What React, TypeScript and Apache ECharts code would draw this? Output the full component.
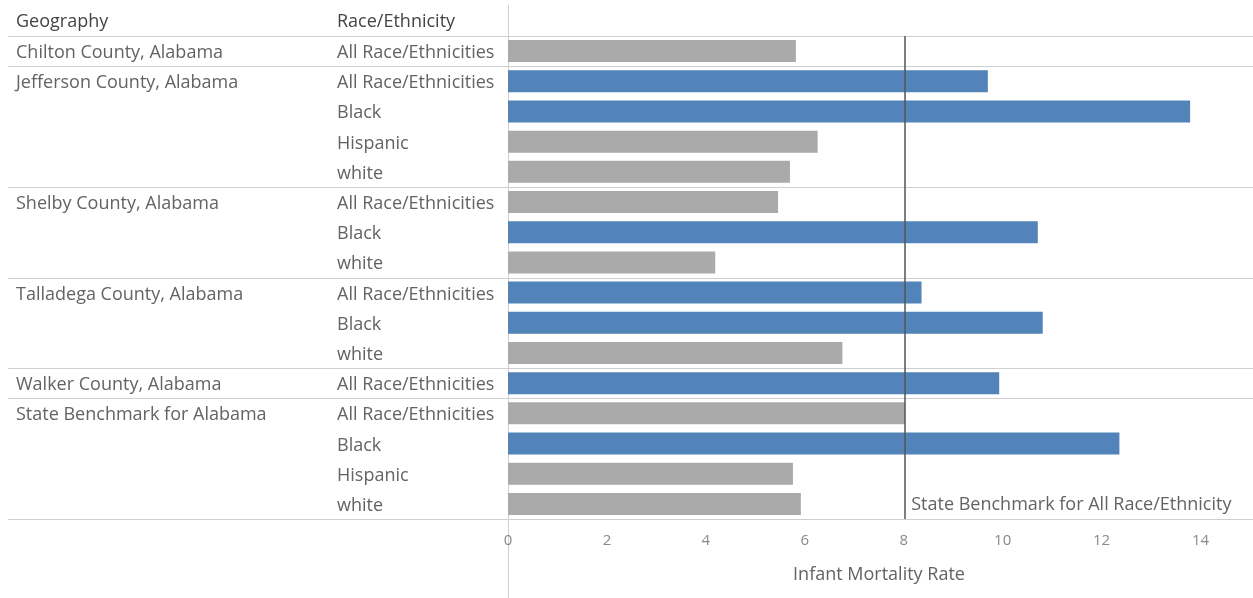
import React, { useEffect, useRef } from "react";
import * as echarts from "echarts";

const geography = [
  "Chilton County, Alabama",
  "Jefferson County, Alabama",
  "Jefferson County, Alabama",
  "Jefferson County, Alabama",
  "Jefferson County, Alabama",
  "Shelby County, Alabama",
  "Shelby County, Alabama",
  "Shelby County, Alabama",
  "Talladega County, Alabama",
  "Talladega County, Alabama",
  "Talladega County, Alabama",
  "Walker County, Alabama",
  "State Benchmark for Alabama",
  "State Benchmark for Alabama",
  "State Benchmark for Alabama",
  "State Benchmark for Alabama",
];
const race = [
  "All Race/Ethnicities",
  "All Race/Ethnicities",
  "Black",
  "Hispanic",
  "white",
  "All Race/Ethnicities",
  "Black",
  "white",
  "All Race/Ethnicities",
  "Black",
  "white",
  "All Race/Ethnicities",
  "All Race/Ethnicities",
  "Black",
  "Hispanic",
  "white",
];
const rate = [5.82, 9.7, 13.79, 6.26, 5.7, 5.46, 10.71, 4.19, 8.36, 10.81, 6.76, 9.93, 8.03, 12.36, 5.76, 5.92];
const benchmark = 8.03;
const benchmarkLabel = "State Benchmark for All Race/Ethnicity";
const xTicks = { min: 0, max: 15, interval: 2, lastLabel: 14 };
const headers = ["Geography", "Race/Ethnicity"];
const axisName = "Infant Mortality Rate";

const FONT = "'Open Sans'";
const FS = 18;
const TEXT = "#636363";
const BLUE = "#5283b9";
const GRAY = "#aaaaaa";
const LINE = "#cfcfcf";

const W = 1253;
const H = 598;
const GEO_X = 16;
const RACE_X = 337;
const GRID_LEFT = 508;

export default function App() {
  const ref = useRef<HTMLDivElement>(null);
  useEffect(() => {
    if (!ref.current) return;
    const chart = echarts.init(ref.current, undefined, { renderer: "svg", width: W, height: H });
    const keys = geography.map((g, i) => `${g} | ${race[i]}`);
    chart.setOption({
      animation: false,
      grid: { left: GRID_LEFT, right: 0, top: 36, bottom: H - 519, containLabel: false },
      xAxis: {
        type: "value",
        min: xTicks.min,
        max: xTicks.max,
        interval: xTicks.interval,
        axisLine: { show: false },
        axisTick: { show: false },
        splitLine: { show: false },
        axisLabel: {
          color: "#8a8a8a",
          fontFamily: FONT,
          fontSize: 15,
          margin: 12,
          formatter: (v: number) => (v > xTicks.lastLabel ? "" : String(v)),
        },
        name: axisName,
        nameLocation: "middle",
        nameGap: 45,
        nameTextStyle: { color: TEXT, fontFamily: FONT, fontSize: FS },
      },
      yAxis: [
        {
          type: "category",
          data: keys,
          inverse: true,
          axisLine: { show: false },
          axisTick: { show: false },
          splitLine: { show: false },
          axisLabel: {
            interval: 0,
            align: "left",
            margin: GRID_LEFT - RACE_X,
            color: TEXT,
            fontFamily: FONT,
            fontSize: FS,
            padding: [0, 0, 3, 0],
            formatter: (_v: string, i: number) => race[i],
          },
        },
        {
          type: "category",
          data: keys,
          inverse: true,
          position: "left",
          axisLine: { show: false },
          axisTick: { show: false },
          splitLine: { show: false },
          axisLabel: {
            interval: 0,
            align: "left",
            margin: GRID_LEFT - GEO_X,
            color: TEXT,
            fontFamily: FONT,
            fontSize: FS,
            padding: [0, 0, 3, 0],
            formatter: (_v: string, i: number) =>
              i === 0 || geography[i] !== geography[i - 1] ? geography[i] : "",
          },
        },
      ],
      series: [
        {
          type: "bar",
          yAxisIndex: 0,
          barWidth: 22,
          data: rate.map((v) => ({ value: v, itemStyle: { color: v > benchmark ? BLUE : GRAY } })),
          markLine: {
            silent: true,
            symbol: "none",
            label: { show: false },
            lineStyle: { color: "#555", width: 1.5, type: "solid" },
            data: [{ xAxis: benchmark }],
          },
        },
      ],
    });

    const y0 = chart.convertToPixel({ yAxisIndex: 0 }, keys[0]) as number;
    const y1 = chart.convertToPixel({ yAxisIndex: 0 }, keys[1]) as number;
    const band = y1 - y0;
    const boundaries: number[] = [];
    geography.forEach((g, i) => {
      if (i === 0 || g !== geography[i - 1]) boundaries.push(i);
    });
    boundaries.push(geography.length);
    const sepY = boundaries.map((i) => y0 + (i - 0.5) * band);
    const axisX = chart.convertToPixel({ xAxisIndex: 0 }, 0) as number;
    const benchX = chart.convertToPixel({ xAxisIndex: 0 }, benchmark) as number;
    const lastY = chart.convertToPixel({ yAxisIndex: 0 }, keys[keys.length - 1]) as number;

    const graphic: any[] = [];
    sepY.forEach((y) => {
      graphic.push({
        type: "line",
        shape: { x1: 8, y1: Math.round(y) + 0.5, x2: W, y2: Math.round(y) + 0.5 },
        style: { stroke: LINE, lineWidth: 1 },
        silent: true,
      });
    });
    graphic.push({
      type: "line",
      shape: { x1: Math.round(axisX) + 0.5, y1: 5, x2: Math.round(axisX) + 0.5, y2: H },
      style: { stroke: LINE, lineWidth: 1 },
      silent: true,
    });
    graphic.push({
      type: "text",
      x: GEO_X,
      y: y0 - band - 1,
      style: { text: headers[0], fill: "#444", font: `${FS}px ${FONT}`, textVerticalAlign: "middle" },
    });
    graphic.push({
      type: "text",
      x: RACE_X,
      y: y0 - band - 1,
      style: { text: headers[1], fill: "#444", font: `${FS}px ${FONT}`, textVerticalAlign: "middle" },
    });
    graphic.push({
      type: "text",
      x: benchX + 6,
      y: lastY - 1,
      style: { text: benchmarkLabel, fill: TEXT, font: `${FS}px ${FONT}`, textVerticalAlign: "middle" },
    });
    chart.setOption({ graphic });

    return () => chart.dispose();
  }, []);
  return <div ref={ref} style={{ position: "fixed", left: 0, top: 0, width: W, height: H }} />;
}
